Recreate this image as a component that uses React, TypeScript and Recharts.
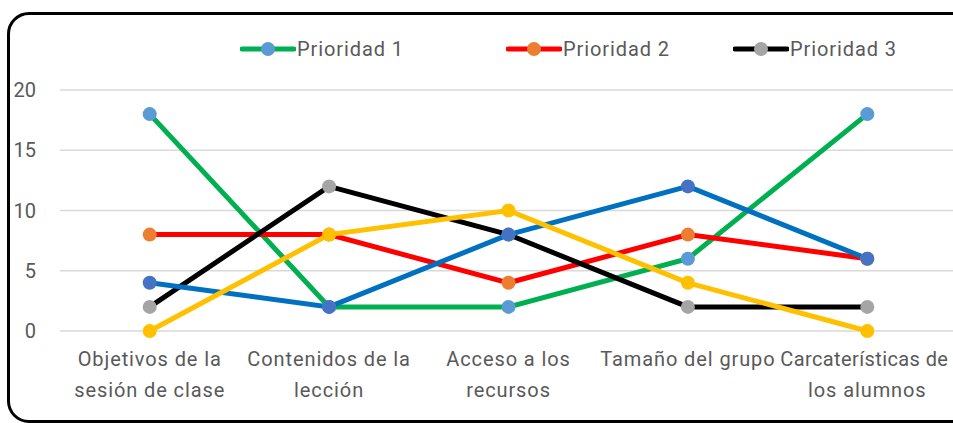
import React from 'react'
import { LineChart, Line, XAxis, YAxis, CartesianGrid } from 'recharts'

const categories = [
  'Objetivos de la|sesión de clase',
  'Contenidos de la|lección',
  'Acceso a los|recursos',
  'Tamaño del grupo',
  'Carcaterísticas de|los alumnos',
]
const prioridad1 = [18, 2, 2, 6, 18]
const prioridad2 = [8, 8, 4, 8, 6]
const prioridad3 = [2, 12, 8, 2, 2]
const serieAzul = [4, 2, 8, 12, 6]
const serieAmarilla = [0, 8, 10, 4, 0]
const yTicks = [0, 5, 10, 15, 20]

const data = categories.map((c, i) => ({
  cat: c,
  p1: prioridad1[i],
  p2: prioridad2[i],
  p3: prioridad3[i],
  azul: serieAzul[i],
  amarilla: serieAmarilla[i],
}))

const FONT = 'Roboto, sans-serif'
const TEXT = '#595959'
const LS = 0.9

const legendItems = [
  { name: 'Prioridad 1', line: '#00B050', dot: '#5B9BD5' },
  { name: 'Prioridad 2', line: '#FF0000', dot: '#ED7D31' },
  { name: 'Prioridad 3', line: '#000000', dot: '#A5A5A5' },
]

function CatTick(props: any) {
  const { x, y, payload, index } = props
  const lines = String(payload.value).split('|')
  // last label sits against the right edge, keep it inside
  const last = index === categories.length - 1
  return (
    <g transform={`translate(${x},${y})`}>
      {lines.map((l, i) => (
        <text key={i} x={last && i === 0 ? -3 : 0} y={27 + i * 31} textAnchor="middle" fill={TEXT}
          fontSize={20} fontFamily={FONT} letterSpacing={last && i === 0 ? 0.4 : LS}>{l}</text>
      ))}
    </g>
  )
}

function MyLegend() {
  const xs = [240, 506, 733]
  return (
    <div style={{ position: 'absolute', left: 0, top: 37, width: 953, height: 24 }}>
      {legendItems.map((it, i) => (
        <div key={it.name} style={{ position: 'absolute', left: xs[i], top: 0, display: 'flex', alignItems: 'center' }}>
          <svg width={56} height={20}>
            <line x1={2} y1={10} x2={54} y2={10} stroke={it.line} strokeWidth={5} strokeLinecap="round" />
            <circle cx={28} cy={10} r={7} fill={it.dot} />
          </svg>
          <span style={{ fontFamily: FONT, fontSize: 20, color: TEXT, marginLeft: 1, letterSpacing: LS }}>{it.name}</span>
        </div>
      ))}
    </div>
  )
}

const series = [
  { key: 'p1', line: '#00B050', dot: '#5B9BD5' },
  { key: 'p2', line: '#FF0000', dot: '#ED7D31' },
  { key: 'p3', line: '#000000', dot: '#A5A5A5' },
  { key: 'azul', line: '#0070C0', dot: '#4472C4' },
  { key: 'amarilla', line: '#FFC000', dot: '#FFC000' },
]

export default function App() {
  return (
    <div style={{ position: 'absolute', left: 0, top: 0, width: 953, height: 423, overflow: 'hidden', background: '#fff' }}>
      <div style={{ position: 'absolute', left: 7, top: 12, width: 960, height: 405, border: '3px solid #000', borderRadius: 22 }} />
      <MyLegend />
      <div style={{ position: 'absolute', left: 0, top: 0 }}>
        <LineChart width={960} height={423} data={data}
          margin={{ top: 90, right: 3, bottom: 32, left: 0 }}>
          <CartesianGrid vertical={false} stroke="#D9D9D9" strokeWidth={1.5} />
          <XAxis dataKey="cat" axisLine={false} tickLine={false} height={60} tick={<CatTick />}
            interval={0} padding={{ left: 89.7, right: 89.7 }} />
          <YAxis domain={[0, 20]} ticks={yTicks} width={60} axisLine={false} tickLine={false}
            tickSize={0} tickMargin={24} tick={{ fill: TEXT, fontSize: 20, fontFamily: FONT }} />
          {series.map(s => (
            <Line key={s.key} dataKey={s.key} type="linear" stroke={s.line} strokeWidth={5}
              dot={{ r: 7, fill: s.dot, stroke: 'none' }} activeDot={false} isAnimationActive={false} />
          ))}
        </LineChart>
      </div>
    </div>
  )
}
